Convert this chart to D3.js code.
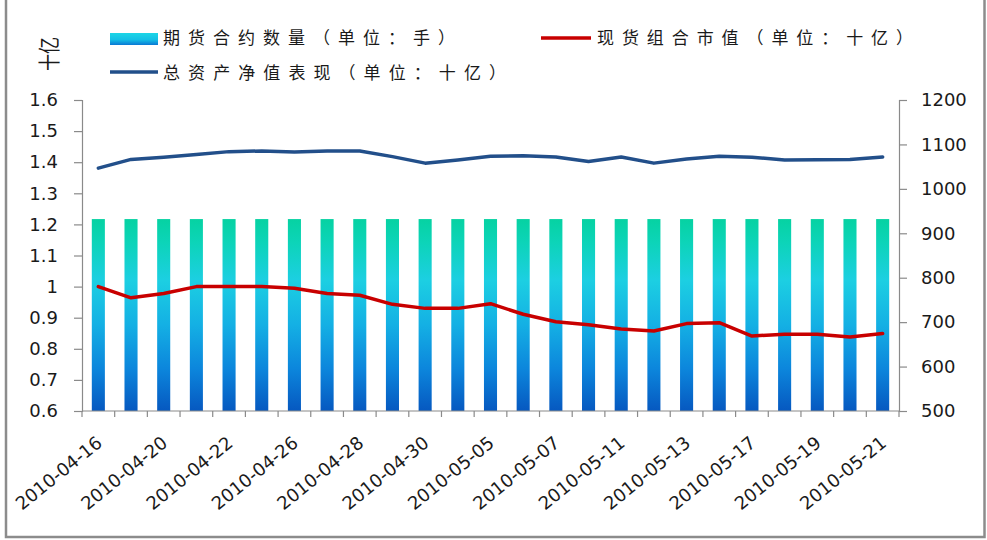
<!DOCTYPE html>
<html>
<head>
<meta charset="utf-8">
<script src="https://cdn.jsdelivr.net/npm/d3@7"></script>
<style>
  html, body { margin: 0; padding: 0; background: #fff; }
  svg { display: block; }
  .num { font-family: "DejaVu Sans", Verdana, sans-serif; font-size: 18px; fill: #1a1a1a; }
  .cjk { font-family: "Noto Sans CJK SC", sans-serif; font-size: 17px; fill: #1a1a1a; }
</style>
</head>
<body>
<svg id="chart" width="987" height="540"></svg>
<script>
// ---------------- data ----------------
const dates = ["2010-04-16","2010-04-19","2010-04-20","2010-04-21","2010-04-22","2010-04-23",
  "2010-04-26","2010-04-27","2010-04-28","2010-04-29","2010-04-30","2010-05-04","2010-05-05",
  "2010-05-06","2010-05-07","2010-05-10","2010-05-11","2010-05-12","2010-05-13","2010-05-14",
  "2010-05-17","2010-05-18","2010-05-19","2010-05-20","2010-05-21"];
const tickLabels = ["2010-04-16","2010-04-20","2010-04-22","2010-04-26","2010-04-28","2010-04-30",
  "2010-05-05","2010-05-07","2010-05-11","2010-05-13","2010-05-17","2010-05-19","2010-05-21"];
// 期货合约数量（手） - right axis
const futures = [932,932,932,932,932,932,932,932,932,932,932,932,932,932,932,932,932,932,932,932,932,932,932,932,932];
// 总资产净值表现（十亿） - left axis
const nav = [1.381,1.409,1.416,1.425,1.434,1.436,1.433,1.436,1.436,1.418,1.397,1.407,1.419,
  1.421,1.417,1.402,1.417,1.397,1.410,1.419,1.416,1.407,1.408,1.409,1.417];
// 现货组合市值（十亿） - left axis
const spot = [1.000,0.964,0.978,1.000,1.000,1.000,0.995,0.978,0.972,0.943,0.930,0.930,0.945,
  0.911,0.887,0.877,0.864,0.857,0.881,0.884,0.841,0.847,0.847,0.838,0.849];
const leftTicks = [0.6,0.7,0.8,0.9,1.0,1.1,1.2,1.3,1.4,1.5,1.6];
const rightTicks = [500,600,700,800,900,1000,1100,1200];
const legendNames = ["期货合约数量（单位：手）","现货组合市值（单位：十亿）","总资产净值表现（单位：十亿）"];
const yTitle = "十亿";

// ---------------- layout ----------------
const svg = d3.select("#chart");
const L = 82, R = 899, T = 100, B = 411;
const axisColor = "#8a8a8a";

// frame
svg.append("rect").attr("x", 6).attr("y", -5).attr("width", 978.5).attr("height", 542)
  .attr("fill", "none").attr("stroke", "#8c8c8c").attr("stroke-width", 2.5);

const x = d3.scaleBand().domain(dates).range([L, R]).paddingInner(0.6).paddingOuter(0.3);
const yL = d3.scaleLinear().domain([0.6, 1.6]).range([B, T]);
const yR = d3.scaleLinear().domain([500, 1200]).range([B, T]);

// gradients
const defs = svg.append("defs");
const g1 = defs.append("linearGradient").attr("id", "barGrad")
  .attr("x1", 0).attr("y1", 0).attr("x2", 0).attr("y2", 1);
[["0%","#06d2a2"],["12%","#0cd4b8"],["32%","#1ccfe2"],["55%","#14b0e4"],["78%","#0c86dc"],["100%","#0658c0"]]
  .forEach(([o,c]) => g1.append("stop").attr("offset", o).attr("stop-color", c));
const g2 = defs.append("linearGradient").attr("id", "legGrad")
  .attr("x1", 0).attr("y1", 0).attr("x2", 0).attr("y2", 1);
[["0%","#1cd6e6"],["55%","#14c0e6"],["100%","#0a78d4"]]
  .forEach(([o,c]) => g2.append("stop").attr("offset", o).attr("stop-color", c));

// bars
svg.append("g").selectAll("rect").data(futures).join("rect")
  .attr("x", (d, i) => x(dates[i]))
  .attr("width", x.bandwidth())
  .attr("y", d => yR(d))
  .attr("height", d => B - yR(d))
  .attr("fill", "url(#barGrad)");

// lines
const cx = i => x(dates[i]) + x.bandwidth() / 2;
const lineL = d3.line().x((d, i) => cx(i)).y(d => yL(d));
svg.append("path").datum(nav).attr("d", lineL)
  .attr("fill", "none").attr("stroke", "#224f8a").attr("stroke-width", 3.5)
  .attr("stroke-linejoin", "round").attr("stroke-linecap", "round");
svg.append("path").datum(spot).attr("d", lineL)
  .attr("fill", "none").attr("stroke", "#c80000").attr("stroke-width", 3.5)
  .attr("stroke-linejoin", "round").attr("stroke-linecap", "round");

// left axis
const ax = svg.append("g").attr("transform", `translate(${L},0)`)
  .call(d3.axisLeft(yL).tickValues(leftTicks).tickSize(8).tickPadding(16)
    .tickFormat(d => String(+d.toFixed(1))));
// right axis
const ar = svg.append("g").attr("transform", `translate(${R},0)`)
  .call(d3.axisRight(yR).tickValues(rightTicks).tickSize(8).tickPadding(14)
    .tickFormat(d3.format("d")));
// bottom axis (ticks at band boundaries)
const step = x.step();
const boundaries = d3.range(dates.length + 1).map(k => L + k * step);
const ab = svg.append("g");
ab.append("line").attr("x1", L).attr("x2", R).attr("y1", B).attr("y2", B)
  .attr("stroke", axisColor).attr("stroke-width", 1.2);
ab.selectAll("line.t").data(boundaries).join("line").attr("class", "t")
  .attr("x1", d => d).attr("x2", d => d).attr("y1", B).attr("y2", B + 6)
  .attr("stroke", axisColor).attr("stroke-width", 1.2);
ab.selectAll("text").data(tickLabels).join("text")
  .attr("class", "num")
  .attr("text-anchor", "end")
  .attr("transform", d => `translate(${cx(dates.indexOf(d)) + 5},${445}) rotate(-39)`)
  .text(d => d);

[ax, ar].forEach(a => {
  a.select(".domain").attr("stroke", axisColor).attr("stroke-width", 1.2);
  a.selectAll(".tick line").attr("stroke", axisColor).attr("stroke-width", 1.2);
  a.selectAll(".tick text").attr("class", "num").attr("font-size", null).attr("font-family", null).attr("fill", null);
});
ax.attr("font-size", null).attr("font-family", null);
ar.attr("font-size", null).attr("font-family", null);

// y title
svg.append("text").attr("class", "cjk")
  .attr("text-anchor", "middle")
  .attr("transform", "translate(57,54) rotate(-90) scale(1,1.25)")
  .style("font-size", "17px")
  .text(yTitle);

// legend
const leg = svg.append("g");
leg.append("rect").attr("x", 110).attr("y", 33).attr("width", 48).attr("height", 12).attr("fill", "url(#legGrad)");
leg.append("text").attr("class", "cjk").attr("x", 163).attr("y", 44)
  .attr("textLength", 292).attr("lengthAdjust", "spacing").text(legendNames[0]);
leg.append("line").attr("x1", 541).attr("x2", 591).attr("y1", 38).attr("y2", 38)
  .attr("stroke", "#c80000").attr("stroke-width", 3.5);
leg.append("text").attr("class", "cjk").attr("x", 597).attr("y", 44)
  .attr("textLength", 316).attr("lengthAdjust", "spacing").text(legendNames[1]);
leg.append("line").attr("x1", 110).attr("x2", 158).attr("y1", 72).attr("y2", 72)
  .attr("stroke", "#224f8a").attr("stroke-width", 3.5);
leg.append("text").attr("class", "cjk").attr("x", 163).attr("y", 79)
  .attr("textLength", 343).attr("lengthAdjust", "spacing").text(legendNames[2]);
</script>
</body>
</html>
